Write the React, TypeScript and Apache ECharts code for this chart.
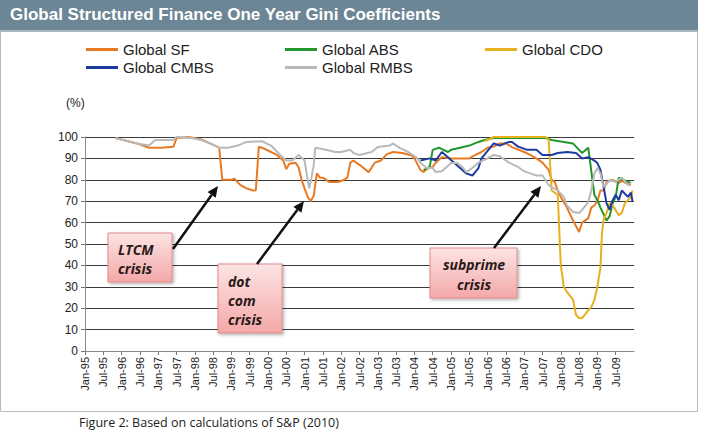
import React, { useEffect, useRef } from "react";
import * as echarts from "echarts";

// month index: 0 = Jan-95
const xTickLabels = [
  "Jan-95","Jul-95","Jan-96","Jul-96","Jan-97","Jul-97","Jan-98","Jul-98",
  "Jan-99","Jul-99","Jan-00","Jul-00","Jan-01","Jul-01","Jan-02","Jul-02",
  "Jan-03","Jul-03","Jan-04","Jul-04","Jan-05","Jul-05","Jan-06","Jul-06",
  "Jan-07","Jul-07","Jan-08","Jul-08","Jan-09","Jul-09",
];

const seriesNames = ["Global SF", "Global ABS", "Global CDO", "Global CMBS", "Global RMBS"];
const seriesColors = ["#e87a24", "#22962a", "#e6b01e", "#1d3c9e", "#b9b9b9"];

const globalSF: [number, number][] = [
  [10, 99.5], [17, 97], [21, 95], [25, 95], [29, 95.5], [30, 99.5], [34, 100], [38, 99],
  [41, 97], [44, 95], [45, 80], [48, 80], [49, 80.5], [51, 77.5], [53, 76], [55, 75],
  [56, 75], [57, 95.5], [58, 95], [61, 93], [63, 91.5], [65, 89], [66, 85], [67, 87.5],
  [69, 88], [70, 86], [71, 80], [73, 72], [74, 70], [75, 72.5], [76, 83], [77, 81],
  [78, 81], [80, 79], [83, 79], [85, 80], [86, 81], [87, 88], [88, 89], [90, 87],
  [93, 83.6], [95, 88], [97, 89], [99, 92], [101, 93], [104, 92.5], [107, 91.5], [108, 90],
  [110, 84.6], [111, 83.6], [112, 85], [114, 86], [115, 88], [117, 90.6], [120, 90],
  [123, 90], [126, 90], [128, 91.6], [130, 93], [132, 95], [134, 95.5], [136, 97],
  [138, 97], [140, 95.3], [144, 93], [146, 91.6], [148, 90], [150, 88], [152, 84.6],
  [153, 80], [154, 79], [155, 75], [156, 72], [158, 67], [160, 61], [162, 55.6],
  [163, 60], [165, 62], [166, 67], [167, 68], [168, 70], [169, 75], [170, 75], [171, 79],
  [173, 80], [175, 78.5], [176, 79.5], [178, 78], [179, 77.6],
];

const globalABS: [number, number][] = [
  [111, 84.5], [113, 86], [114, 94], [116, 95], [119, 93], [120, 94], [123, 95], [126, 96],
  [129, 97.7], [131, 98.6], [134, 99.5], [137, 99.5], [151, 99.5], [153, 98.6], [157, 97.7],
  [160, 97], [162, 94], [163, 92.5], [165, 95], [166, 84], [167, 73], [168, 70.5],
  [169, 67], [171, 61], [172, 63], [173, 69], [174, 72], [175, 81], [178, 79], [179, 78.5],
];

const globalCDO: [number, number][] = [
  [131, 98], [134, 100], [151, 100], [152, 99], [153, 75], [155, 73], [156, 40], [157, 30],
  [158, 27.6], [160, 24], [161, 16.8], [162, 15.4], [163, 15.4], [165, 19], [166, 20.5],
  [167, 23.8], [168, 30], [169, 39], [169.5, 55], [170, 61], [171, 64.5], [172, 69],
  [173, 68], [175, 63.5], [176, 64.5], [177, 69], [179, 72], [179.5, 75],
];

const globalCMBS: [number, number][] = [
  [110, 89], [113, 90], [115, 89], [117, 93], [119, 90.5], [121, 88], [123, 85.5], [125, 83],
  [127, 82], [129, 85.5], [130, 90], [133, 95.3], [134, 97], [136, 96], [139, 97.7],
  [140, 97.7], [142, 95.5], [145, 94], [148, 94], [150, 91.6], [153, 91.6], [155, 92.5],
  [158, 93], [161, 92.5], [163, 90], [165, 90.6], [167, 89], [168, 87.8], [169, 84.6],
  [170, 77], [171, 69], [172, 66], [173, 70.5], [174, 73], [175, 70.5], [176, 75],
  [178, 72], [179, 74], [179.5, 70],
];

const globalRMBS: [number, number][] = [
  [10, 99.5], [17, 97], [21, 96], [23, 98.6], [29, 98.6], [30, 100], [35, 99.5], [38, 98.6],
  [41, 97], [44, 95], [47, 95], [50, 96], [53, 97.7], [58, 98], [61, 96], [64, 91.6],
  [66, 89], [68, 89], [70, 91.6], [72, 89], [73, 80], [73.5, 76], [74, 79], [75, 87],
  [75.5, 95], [79, 94], [82, 93], [84, 93], [87, 94], [88, 92.5], [90, 91.6], [94, 93],
  [96, 95.3], [100, 96], [101, 97], [103, 95], [106, 93], [109, 90], [110, 88], [112, 85.5],
  [114, 85.5], [115, 83.6], [117, 84], [120, 87.8], [122, 88], [124, 85.5], [125, 83.6],
  [127, 85.5], [129, 88], [132, 90], [134, 91.6], [136, 91], [138, 89], [139, 88],
  [142, 86], [144, 84], [146, 83], [148, 82], [150, 82], [152, 77.6], [153, 76.6],
  [155, 75], [157, 72], [158, 68], [160, 65], [162, 64.5], [163, 66], [165, 69.6],
  [166, 75], [167, 83], [168, 85.5], [169, 83], [170, 76.6], [171, 78], [172, 80],
  [174, 79], [176, 81], [178, 77.6], [179, 78.5],
];

const seriesData = [globalSF, globalABS, globalCDO, globalCMBS, globalRMBS];

function arrow(x1: number, y1: number, x2: number, y2: number) {
  const dx = x2 - x1, dy = y2 - y1;
  const len = Math.sqrt(dx * dx + dy * dy);
  const ux = dx / len, uy = dy / len;
  const hl = 11, hw = 5;
  const bx = x2 - ux * hl, by = y2 - uy * hl;
  return [
    { type: "line", z: 101, shape: { x1, y1, x2: bx, y2: by }, style: { stroke: "#111", lineWidth: 2.5 } },
    {
      type: "polygon", z: 101,
      shape: { points: [[x2, y2], [bx - uy * hw, by + ux * hw], [bx + uy * hw, by - ux * hw]] },
      style: { fill: "#111" },
    },
  ];
}

function box(x: number, y: number, w: number, h: number) {
  return {
    type: "rect", z: 100,
    shape: { x, y, width: w, height: h },
    style: {
      fill: new echarts.graphic.LinearGradient(0, 0, 0, 1, [
        { offset: 0, color: "#fde4e4" },
        { offset: 1, color: "#f4a8a8" },
      ]),
      stroke: "#e08a8a", lineWidth: 1,
      shadowBlur: 3, shadowColor: "rgba(0,0,0,0.3)", shadowOffsetX: 1.5, shadowOffsetY: 1.5,
    },
  };
}

function boxText(x: number, y: number, text: string, align = "left") {
  return {
    type: "text", z: 102, x, y,
    style: {
      text, fill: "#2a1a1a", fontSize: 14, fontWeight: "bold", fontStyle: "italic",
      fontFamily: "Open Sans", align, verticalAlign: "middle",
    },
  };
}

export default function App() {
  const ref = useRef<HTMLDivElement>(null);
  useEffect(() => {
    const chart = echarts.init(ref.current!, null, { renderer: "svg" });
    const legendStyle = { fontSize: 15, color: "#222", fontFamily: "Liberation Sans" };
    const mkLegend = (left: number, data: string[]) => ({
      orient: "vertical", left, top: 42, padding: 0, itemGap: 3, itemWidth: 32, itemHeight: 3,
      icon: "rect", textStyle: legendStyle, data, selectedMode: false,
    });
    chart.setOption({
      animation: false,
      backgroundColor: "#fff",
      textStyle: { fontFamily: "Liberation Sans" },
      color: seriesColors,
      legend: [
        mkLegend(86, ["Global SF", "Global CMBS"]),
        mkLegend(285, ["Global ABS", "Global RMBS"]),
        mkLegend(485, ["Global CDO"]),
      ],
      grid: { left: 85, right: 69, top: 137, bottom: 81, containLabel: false },
      xAxis: {
        type: "value", min: 0, max: 180, interval: 6,
        axisLine: { show: true, lineStyle: { color: "#8a8a8a", width: 1 } },
        axisTick: { show: true, length: 4, lineStyle: { color: "#777" } },
        splitLine: { show: false },
        axisLabel: {
          rotate: 90, fontSize: 11, color: "#222", margin: 6, showMaxLabel: false,
          formatter: (v: number) => xTickLabels[Math.round(v / 6)] ?? "",
        },
      },
      yAxis: {
        type: "value", min: 0, max: 100, interval: 10,
        axisLine: { show: true, lineStyle: { color: "#8a8a8a", width: 1 } },
        axisTick: { show: true, length: 4, lineStyle: { color: "#777" } },
        splitLine: { show: true, lineStyle: { color: "#3a3a3a", width: 1 } },
        axisLabel: { fontSize: 12, color: "#222", margin: 7 },
      },
      series: seriesNames.map((name, i) => ({
        name, type: "line", data: seriesData[i], showSymbol: false, symbol: "none",
        lineStyle: { width: 2, color: seriesColors[i] }, itemStyle: { color: seriesColors[i] },
      })),
      graphic: [
        { type: "rect", z: 0, shape: { x: 0.5, y: 0.5, width: 697, height: 411 }, style: { fill: "#fff", stroke: "#b5bcc0", lineWidth: 1 } },
        { type: "rect", z: 1, shape: { x: 0, y: 0, width: 698, height: 30 }, style: { fill: "#6c8696" } },
        { type: "rect", z: 1, shape: { x: 0, y: 30, width: 698, height: 2 }, style: { fill: "#a9b7bf" } },
        {
          type: "text", z: 2, x: 10, y: 14,
          style: { text: "Global Structured Finance One Year Gini Coefficients", fill: "#fff", fontSize: 17, fontWeight: "bold", fontFamily: "Liberation Sans", verticalAlign: "middle" },
        },
        { type: "text", z: 2, x: 66, y: 103, style: { text: "(%)", fill: "#222", fontSize: 12, fontFamily: "Liberation Sans", verticalAlign: "middle" } },
        { type: "text", z: 2, x: 79, y: 422, style: { text: "Figure 2: Based on calculations of S&P (2010)", fill: "#222", fontSize: 12.5, fontFamily: "Open Sans", verticalAlign: "middle" } },
        box(108, 233, 64, 49),
        boxText(118, 249, "LTCM"),
        boxText(118, 268, "crisis"),
        box(218, 264, 64, 69),
        boxText(228, 281, "dot"),
        boxText(228, 300, "com"),
        boxText(228, 319, "crisis"),
        box(430, 248, 87, 50),
        boxText(474, 264, "subprime", "center"),
        boxText(474, 284, "crisis", "center"),
        ...arrow(173, 249, 218, 186),
        ...arrow(257, 264, 304, 201),
        ...arrow(494, 248, 541, 186),
      ],
    });
    return () => chart.dispose();
  }, []);
  return <div ref={ref} style={{ position: "fixed", left: 0, top: 0, width: 703, height: 432 }} />;
}
